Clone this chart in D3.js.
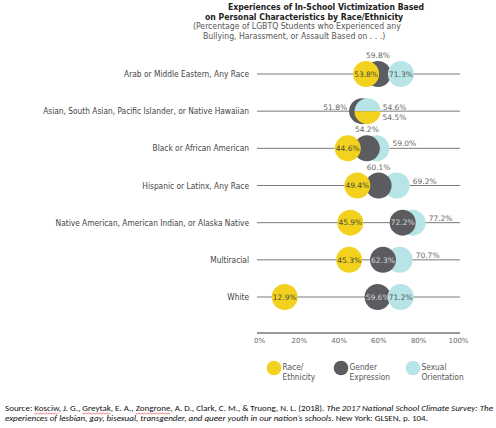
<!DOCTYPE html>
<html>
<head>
<meta charset="utf-8">
<script src="https://cdn.jsdelivr.net/npm/d3@7"></script>
<style>
  body { margin: 0; background: #fff; }
  svg { display: block; }
</style>
</head>
<body>
<svg width="496" height="428"></svg>
<script>
const categories = [
  "Arab or Middle Eastern, Any Race",
  "Asian, South Asian, Pacific Islander, or Native Hawaiian",
  "Black or African American",
  "Hispanic or Latinx, Any Race",
  "Native American, American Indian, or Alaska Native",
  "Multiracial",
  "White"
]
const raceEthnicity     = [53.8, 54.5, 44.6, 49.4, 45.9, 45.3, 12.9]
const genderExpression  = [59.8, 51.8, 54.2, 60.1, 72.2, 62.3, 59.6]
const sexualOrientation = [71.3, 54.6, 59.0, 69.2, 77.2, 70.7, 71.2]
const xTicks = [0, 20, 40, 60, 80, 100]
const titleLines = [
  "Experiences of In-School Victimization Based",
  "on Personal Characteristics by Race/Ethnicity",
  "(Percentage of LGBTQ Students who Experienced any",
  "Bullying, Harassment, or Assault Based on . . .)"
]
const legendLabels = [["Race/", "Ethnicity"], ["Gender", "Expression"], ["Sexual", "Orientation"]]

// where each value label sits, per row
const labelPlace = {
  race:   ["in", "rightBelow", "in", "in", "in", "in", "in"],
  gender: ["above", "left", "above", "above", "in", "in", "in"],
  sexual: ["in", "rightAbove", "right", "right", "right", "right", "in"]
}
// rows where the light blue circle sits over the gray one
const blueOnTop = ["Arab or Middle Eastern, Any Race", "White"]

const colors = {race: "#f3d21f", gender: "#5c5c60", sexual: "#b6e4e7"}
const textOn = {race: "#4a4a3a", gender: "#d8d8d8", sexual: "#555"}

const svg = d3.select("svg")
const narrow = "'Liberation Sans Narrow', 'DejaVu Sans Condensed', sans-serif"
const numFont = "'DejaVu Sans', sans-serif"
const r = 13

const x = d3.scaleLinear().domain([0, 100]).range([259, 458])
const y = d3.scalePoint().domain(categories).range([74, 297])

// title
const titleX = [228, 205, 193, 203]
svg.append("g").selectAll("text").data(titleLines).join("text")
    .attr("x", (d, i) => titleX[i])
    .attr("y", (d, i) => 10 + i * 9.5)
    .attr("font-family", narrow)
    .attr("font-size", 8.6)
    .attr("font-weight", (d, i) => i < 2 ? "bold" : "normal")
    .attr("fill", (d, i) => i < 2 ? "#222" : "#555")
    .text(d => d)

// row lines and labels
const rows = svg.append("g")
rows.selectAll("line").data(categories).join("line")
    .attr("x1", x(0) - 2).attr("x2", x(100) + 2)
    .attr("y1", d => y(d)).attr("y2", d => y(d))
    .attr("stroke", "#7a7a7a").attr("stroke-width", 1)
rows.selectAll("text").data(categories).join("text")
    .attr("x", 249).attr("y", d => y(d) + 3)
    .attr("text-anchor", "end")
    .attr("font-family", narrow).attr("font-size", 8.3)
    .attr("fill", "#444")
    .text(d => d)

// axis
const axis = svg.append("g")
    .attr("transform", "translate(0,333)")
    .call(d3.axisBottom(x).tickValues(xTicks).tickFormat(d => d + "%").tickSize(0).tickPadding(5))
axis.select(".domain").remove()
axis.selectAll("text").attr("font-family", numFont).attr("font-size", 7).attr("fill", "#666")
axis.append("line")
    .attr("x1", x(0) - 2).attr("x2", x(100) + 2)
    .attr("stroke", "#999").attr("stroke-width", 2)

// dots
const dots = svg.append("g")
const halfArc = d3.arc().innerRadius(0).outerRadius(r)
categories.forEach((c, i) => {
  const cy = y(c)
  const v = {race: raceEthnicity[i], gender: genderExpression[i], sexual: sexualOrientation[i]}
  const circle = key => dots.append("circle")
      .attr("cx", x(v[key])).attr("cy", cy).attr("r", r).attr("fill", colors[key])
  if (Math.abs(v.race - v.sexual) < 1) {
    // nearly equal: split the circle, sexual orientation on top, race below
    circle("gender")
    dots.append("path")
        .attr("transform", `translate(${x(v.sexual)},${cy})`)
        .attr("d", halfArc({startAngle: -Math.PI / 2, endAngle: Math.PI / 2}))
        .attr("fill", colors.sexual)
    dots.append("path")
        .attr("transform", `translate(${x(v.race)},${cy})`)
        .attr("d", halfArc({startAngle: Math.PI / 2, endAngle: Math.PI * 1.5}))
        .attr("fill", colors.race)
  } else {
    const order = blueOnTop.includes(c) ? ["gender", "sexual", "race"] : ["sexual", "gender", "race"]
    order.forEach(circle)
  }
})

// value labels
const labels = svg.append("g").attr("font-family", numFont).attr("font-size", 7.5)
const series = [["race", raceEthnicity], ["gender", genderExpression], ["sexual", sexualOrientation]]
series.forEach(([key, vals]) => {
  vals.forEach((val, i) => {
    const cx = x(val), cy = y(categories[i])
    const place = labelPlace[key][i]
    let tx = cx, ty = cy + 2.7, anchor = "middle", fill = "#666"
    if (place === "in") fill = textOn[key]
    if (place === "above") ty = cy - r - 3
    if (place === "left") { tx = cx - r - 2; ty = cy - 1; anchor = "end" }
    if (place === "right") { tx = cx + r + 3; ty = cy - 2; anchor = "start" }
    if (place === "rightAbove") { tx = cx + r + 2; ty = cy - 1.5; anchor = "start" }
    if (place === "rightBelow") { tx = cx + r + 2; ty = cy + 8.5; anchor = "start" }
    labels.append("text")
        .attr("x", tx).attr("y", ty).attr("text-anchor", anchor)
        .attr("fill", fill)
        .text(val.toFixed(1) + "%")
  })
})

// legend
const legend = svg.append("g").selectAll("g").data(series.map(s => s[0])).join("g")
    .attr("transform", (d, i) => `translate(${[274, 341, 413][i]},368)`)
legend.append("circle").attr("r", 7.3).attr("fill", d => colors[d])
legend.append("text")
    .attr("x", 8.5)
    .attr("font-family", narrow).attr("font-size", 8.3).attr("fill", "#555")
    .selectAll("tspan").data((d, i) => legendLabels[i]).join("tspan")
    .attr("x", 8.5).attr("y", (d, j) => 2 + j * 10)
    .text(d => d)

// source
const srcFont = "Carlito, 'Liberation Sans Narrow', sans-serif"
const line1 = [
  ["Source: ", false, false], ["Kosciw", false, true], [", J. G., ", false, false],
  ["Greytak", false, true], [", E. A., ", false, false], ["Zongrone", false, true],
  [", A. D., Clark, C. M., & Truong, N. L. (2018). ", false, false],
  ["The 2017 National School Climate Survey: The", true, false]
]
const line2 = [
  ["experiences of lesbian, gay, bisexual, transgender, and queer youth in our nation\u2019s schools", true, false],
  [". New York: GLSEN, p. 104.", false, false]
]
const src = svg.append("g").attr("font-family", srcFont).attr("font-size", 8.4).attr("fill", "#111")
;[[line1, 411, 488], [line2, 421, 423]].forEach(([parts, ly, len]) => {
  const t = src.append("text").attr("x", 5).attr("y", ly)
      .attr("textLength", len).attr("lengthAdjust", "spacingAndGlyphs")
  t.selectAll("tspan").data(parts).join("tspan")
      .attr("font-style", d => d[1] ? "italic" : "normal")
      .text(d => d[0])
  t.selectAll("tspan").each(function (d) {
    if (!d[2]) return
    const x0 = this.getStartPositionOfChar(0).x
    const x1 = this.getEndPositionOfChar(d[0].length - 1).x
    const pts = d3.range(x0, x1, 1.5).map((px, k) => [px, ly + 2 + (k % 2 ? 1 : 0)])
    src.append("path")
        .attr("d", d3.line()(pts))
        .attr("fill", "none").attr("stroke", "#e03030").attr("stroke-width", 0.6)
  })
})
</script>
</body>
</html>
